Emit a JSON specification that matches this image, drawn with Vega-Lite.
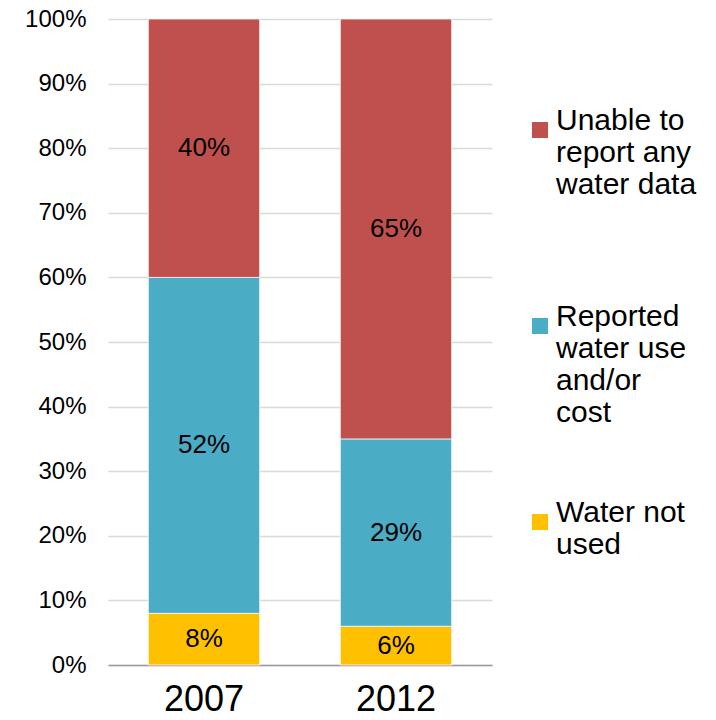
{
  "$schema": "https://vega.github.io/schema/vega-lite/v6.json",
  "autosize": "none",
  "width": 384,
  "height": 646,
  "padding": {"left": 108, "top": 19, "right": 224, "bottom": 55},
  "background": "white",
  "config": {
    "font": "Liberation Sans",
    "view": {"stroke": null}
  },
  "data": {
    "values": [
      {"year": "2007", "category": "Water not used", "order": 1, "share": 0.08},
      {"year": "2007", "category": "Reported water use and/or cost", "order": 2, "share": 0.52},
      {"year": "2007", "category": "Unable to report any water data", "order": 3, "share": 0.40},
      {"year": "2012", "category": "Water not used", "order": 1, "share": 0.06},
      {"year": "2012", "category": "Reported water use and/or cost", "order": 2, "share": 0.29},
      {"year": "2012", "category": "Unable to report any water data", "order": 3, "share": 0.65}
    ]
  },
  "encoding": {
    "x": {
      "field": "year",
      "type": "nominal",
      "scale": {"paddingInner": 0.42, "paddingOuter": 0.21},
      "axis": {
        "title": null,
        "labelAngle": 0,
        "labelFontSize": 36,
        "labelColor": "black",
        "labelPadding": 17,
        "ticks": false,
        "domainColor": "#9a9a9a",
        "domainWidth": 1.5
      }
    },
    "y": {
      "field": "share",
      "type": "quantitative",
      "stack": "zero",
      "scale": {"domain": [0, 1], "nice": false},
      "axis": {
        "title": null,
        "values": [0, 0.1, 0.2, 0.3, 0.4, 0.5, 0.6, 0.7, 0.8, 0.9, 1],
        "format": ".0%",
        "labelFontSize": 24,
        "labelColor": "black",
        "labelPadding": 22,
        "ticks": false,
        "domain": false,
        "gridColor": "#d9d9d9",
        "gridWidth": 1.5
      }
    },
    "order": {"field": "order", "type": "quantitative"}
  },
  "layer": [
    {
      "mark": {"type": "bar", "stroke": "white", "strokeWidth": 0.75},
      "encoding": {
        "color": {
          "field": "category",
          "type": "nominal",
          "scale": {
            "domain": ["Unable to report any water data", "Reported water use and/or cost", "Water not used"],
            "range": ["#c0504d", "#4bacc6", "#ffc000"]
          },
          "legend": {
            "title": null,
            "orient": "none",
            "legendX": 417,
            "legendY": 96,
            "symbolType": "square",
            "symbolSize": 256,
            "symbolStrokeWidth": 0,
            "labelFontSize": 30,
            "labelColor": "black",
            "labelLimit": 300,
            "labelOffset": 1,
            "labelBaseline": "alphabetic",
            "labelExpr": "datum.label == 'Unable to report any water data' ? ['Unable to', 'report any', 'water data', ''] : datum.label == 'Reported water use and/or cost' ? ['Reported', 'water use', 'and/or', 'cost'] : ['Water not', 'used', '', '']",
            "rowPadding": 70
          }
        }
      }
    },
    {
      "mark": {"type": "text", "fontSize": 26, "color": "black"},
      "encoding": {
        "y": {"field": "share", "type": "quantitative", "stack": "zero", "bandPosition": 0.5},
        "text": {"field": "share", "type": "quantitative", "format": ".0%"}
      }
    }
  ]
}
